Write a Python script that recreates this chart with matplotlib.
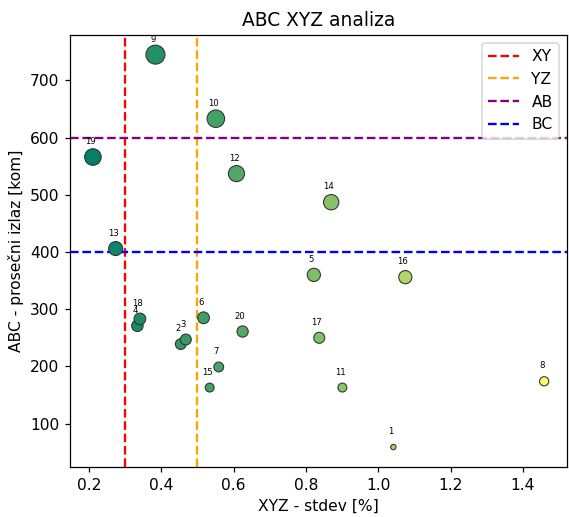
import numpy as np
import matplotlib
matplotlib.use('Agg')
from matplotlib import pyplot as plt

# tocke 1..20
labels = [str(i) for i in range(1, 21)]
stdev = [1.042, 0.454, 0.468, 0.334, 0.822, 0.517, 0.559, 1.459, 0.384, 0.551,
         0.901, 0.608, 0.274, 0.870, 0.534, 1.075, 0.837, 0.341, 0.211, 0.625]
izlaz = [59, 239, 247, 271, 360, 285, 199, 174, 745, 633,
         163, 537, 406, 487, 163, 356, 250, 283, 566, 261]

vlines = [0.3, 0.5]
vline_labels = ['XY', 'YZ']
vline_colors = ['red', 'orange']
hlines = [600, 400]
hline_labels = ['AB', 'BC']
hline_colors = ['purple', 'blue']

DPI = 112
fig = plt.figure(figsize=(569 / DPI, 517 / DPI), dpi=DPI)
ax = fig.add_axes([0.1236, 0.0973, 0.8724, 0.835])

x = np.array(stdev)
y = np.array(izlaz)
ax.scatter(x, y, s=y / 5, c=x, cmap='summer', edgecolors='#333333', linewidths=0.7, zorder=3)

for lab, xi, yi in zip(labels, x, y):
    ax.annotate(lab, (xi, yi), textcoords='offset points', xytext=(-1.5, 7),
                ha='center', va='bottom', fontsize=5.5, color='black')

for v, lab, col in zip(vlines, vline_labels, vline_colors):
    ax.axvline(v, color=col, linestyle='--', label=lab)
for h, lab, col in zip(hlines, hline_labels, hline_colors):
    ax.axhline(h, color=col, linestyle='--', label=lab)

ax.set_title('ABC XYZ analiza')
ax.set_xlabel('XYZ - stdev [%]')
ax.set_ylabel('ABC - prosečni izlaz [kom]')
ax.legend(loc='upper right')

fig.savefig('out.png', dpi=DPI)
